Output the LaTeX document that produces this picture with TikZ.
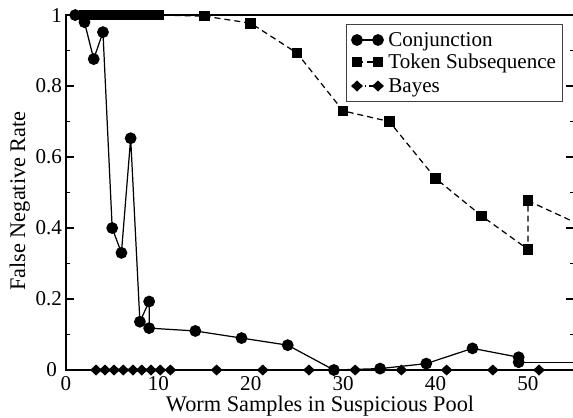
\documentclass[tikz,border=0pt]{standalone}
\usepackage{fontspec}
\setmainfont{Liberation Serif}
\usetikzlibrary{plotmarks}

\tikzset{
  frame/.style={line width=0.85pt},
  conj/.style={line width=0.7pt,mark=*,mark size=3pt},
  token/.style={line width=0.7pt,dash pattern=on 3.4pt off 2.3pt,mark=square*,mark size=2.65pt,mark options={solid}},
  bayes/.style={line width=0.7pt,dash pattern=on 3pt off 1.6pt on 0.8pt off 1.6pt,mark=diamond*,mark size=2.65pt,mark options={solid,xscale=1.43}},
  lab/.style={inner sep=0pt,font=\fontsize{12pt}{14pt}\selectfont},
  axlab/.style={inner sep=0pt,font=\fontsize{12.7pt}{15pt}\selectfont}
}

\begin{document}
\begin{tikzpicture}[x=0.02cm,y=0.02cm]
\useasboundingbox (0,0) rectangle (573,417);
%
\begin{scope}[shift={(66,47)},x=0.1848cm,y=7.1cm]
\coordinate (O) at (0,0);
\coordinate (T) at (55,1);
\draw[frame] (O) rectangle (T);
%ticks, left and right, pointing in
\foreach \y in {0.2,0.4,0.6,0.8}{
  \draw[frame] (0,\y) -- ++(0.87,0);
  \draw[frame] (55,\y) -- ++(-0.87,0);
}
\foreach \y in {0.1,0.3,0.5,0.7,0.9}{
  \draw[frame] (0,\y) -- ++(0.43,0);
  \draw[frame] (55,\y) -- ++(-0.43,0);
}
%
\foreach \y/\t in {0.2/0.2,0.4/0.4,0.6/0.6,0.8/0.8,1/1}
  \node[lab,anchor=east] (yt\t) at (-0.4,\y) {\t};
\node[lab,anchor=east] (yt0) at (-0.95,0) {0};
\foreach \x in {0,10,20,30,40,50}
  \node[lab] (xt\x) at (\x,-0.037) {\x};
%
\node[axlab,anchor=base] (xlab) at (27.5,-0.1155) {Worm Samples in Suspicious Pool};
%
%Bayes
\draw[bayes] plot coordinates {(3.25,0) (4.22,0) (5.2,0) (6.2,0) (7.25,0) (8.2,0) (9.2,0) (10.2,0) (11.3,0)
  (16.3,0) (21.3,0) (26.3,0) (31.3,0) (36.3,0) (41.2,0) (46.2,0) (51.2,0)};
\draw[bayes,mark=none] (51.2,0) -- (55,0);
%
%Token Subsequence
\draw[token] plot coordinates {(2,1) (3,1) (4,1) (5,1) (6,1) (7,1) (8,1) (9,1) (10,1)
  (15,0.997) (20,0.977) (25,0.893) (30,0.73) (35,0.70) (40,0.54) (45,0.434) (50,0.34) (50,0.477)};
\draw[token,mark=none] (50,0.477) -- (55,0.417);
%
%Conjunction
\draw[conj] plot coordinates {(1,1) (2,0.98) (3,0.876) (4,0.952) (5,0.40) (6,0.33) (7,0.653) (8,0.136)
  (9,0.193) (9,0.118) (14,0.11) (19,0.09) (24,0.07) (29,0) (34,0.004) (39,0.018) (44,0.061) (49,0.036) (49,0.022)};
\draw[conj,mark=none] (49,0.022) -- (55,0.022);
\end{scope}
%
\node[axlab,rotate=90,anchor=base] (ylab) at (25,216) {False Negative Rate};
%
%legend
\draw[line width=0.5pt,draw=black!75] (346,316) rectangle (562,393);
\draw[conj] plot coordinates {(357,377) (378,377)};
\node[lab,anchor=base west] (lconj) at (388,371) {Conjunction};
\draw[token] plot coordinates {(357,355) (378,355)};
\node[lab,anchor=base west] (ltoken) at (388,349) {Token Subsequence};
\draw[bayes] plot coordinates {(357,331) (378,331)};
\node[lab,anchor=base west] (lbayes) at (388,325) {Bayes};
\end{tikzpicture}
\end{document}
